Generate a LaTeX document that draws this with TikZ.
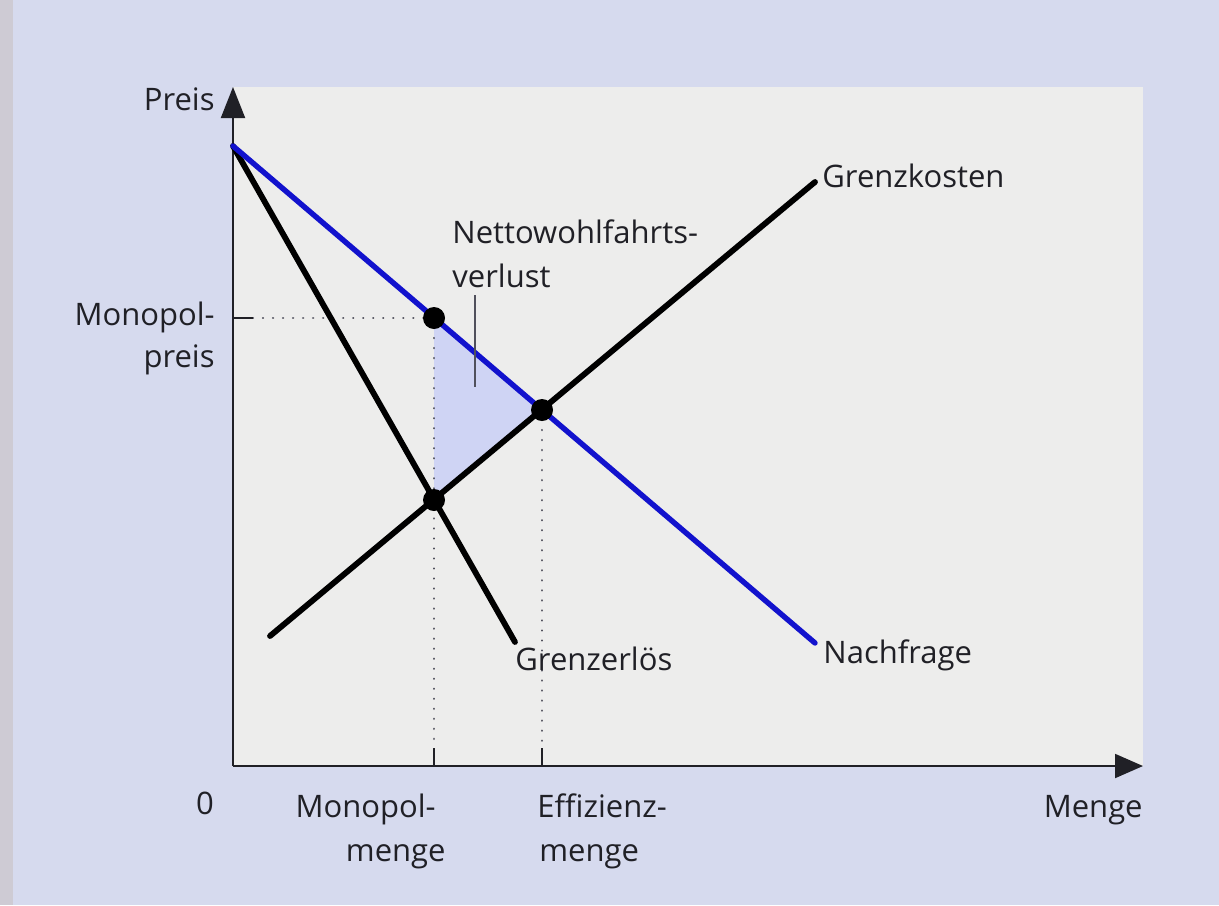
\documentclass[tikz,border=0pt]{standalone}
\usepackage{fontspec}
\setmainfont{Open Sans}
\usetikzlibrary{arrows.meta}
\definecolor{bgl}{RGB}{214,218,238}
\definecolor{edgel}{RGB}{206,203,212}
\definecolor{panel}{RGB}{237,237,236}
\definecolor{tri}{RGB}{207,212,244}
\definecolor{dem}{RGB}{18,18,205}
\definecolor{ink}{RGB}{32,32,38}
\definecolor{dotc}{RGB}{80,80,92}
\begin{document}
\begin{tikzpicture}[x=0.5pt,y=-0.5pt,
  lbl/.style={font=\fontsize{15.5}{19}\selectfont, text=ink, inner sep=0pt},
  curve/.style={line width=2.9pt, line cap=round, draw=black},
  demand/.style={line width=2.7pt, line cap=round, draw=dem},
  axis/.style={line width=1pt, draw=ink},
  guide/.style={line width=1.2pt, draw=dotc, line cap=round, dash pattern=on 0.01pt off 5pt},
  tick/.style={line width=1pt, draw=ink},
  pt/.style={circle, fill=black, minimum size=11pt, inner sep=0pt}]
\useasboundingbox (0,0) rectangle (1219,905);
% background
\fill[bgl] (0,0) rectangle (1219,905);
\fill[edgel] (0,0) rectangle (13,905);
\fill[panel] (233,87) rectangle (1143,766);
% key coordinates
\coordinate (O) at (233,766);
\coordinate (ytip) at (233,87);
\coordinate (xtip) at (1143,766);
\coordinate (top) at (233,146);
\coordinate (dend) at (815,643);
\coordinate (rend) at (515,642);
\coordinate (cstart) at (270,636);
\coordinate (cend) at (815,182);
\coordinate (yt) at (253,318);
\coordinate (ya) at (233,318);
\coordinate (xm1) at (434,748);
\coordinate (xm0) at (434,766);
\coordinate (xe1) at (542,748);
\coordinate (xe0) at (542,766);
\coordinate (ptr1) at (475,295);
\coordinate (ptr2) at (475,387);
% deadweight triangle
\fill[tri] (434,318) -- (542,410) -- (434,500) -- cycle;
% guides
\draw[guide] (yt) -- (434,318);
\draw[guide] (434,318) -- (xm1);
\draw[guide] (542,410) -- (xe1);
\draw[tick] (ya) -- (yt);
\draw[tick] (xm1) -- (xm0);
\draw[tick] (xe1) -- (xe0);
% axes
\draw[axis, -{Triangle[length=15.5pt,width=12pt]}] (O) -- (ytip);
\draw[axis, -{Triangle[length=14pt,width=12pt]}] (O) -- (xtip);
% curves
\draw[curve] (top) -- (rend);
\draw[curve] (cstart) -- (cend);
\draw[demand] (top) -- (dend);
% pointer
\draw[line width=0.9pt, draw=dotc] (ptr1) -- (ptr2);
% points
\node[pt] (M) at (434,318) {};
\node[pt] (E) at (542,410) {};
\node[pt] (L) at (434,500) {};
% labels
\node[lbl, anchor=base east] (preis) at (215,110) {Preis};
\node[lbl, anchor=base east] (mp1) at (215,325) {Monopol-};
\node[lbl, anchor=base east] (mp2) at (215,367) {preis};
\node[lbl, anchor=base west] (nw1) at (452,243) {Nettowohlfahrts-};
\node[lbl, anchor=base west] (nw2) at (452,287) {verlust};
\node[lbl, anchor=base west] (gk) at (822,187) {Grenzkosten};
\node[lbl, anchor=base west] (ge) at (515,670) {Grenzerlös};
\node[lbl, anchor=base west] (nf) at (823,663) {Nachfrage};
\node[lbl, anchor=base] (null) at (205,814) {0};
\node[lbl, anchor=base east] (menge) at (1143,817) {Menge};
\node[lbl, anchor=base east] (mm1) at (436,817) {Monopol-};
\node[lbl, anchor=base east] (mm2) at (446,861) {menge};
\node[lbl, anchor=base west] (em1) at (537,817) {Effizienz-};
\node[lbl, anchor=base west] (em2) at (539,861) {menge};
\end{tikzpicture}
\end{document}
